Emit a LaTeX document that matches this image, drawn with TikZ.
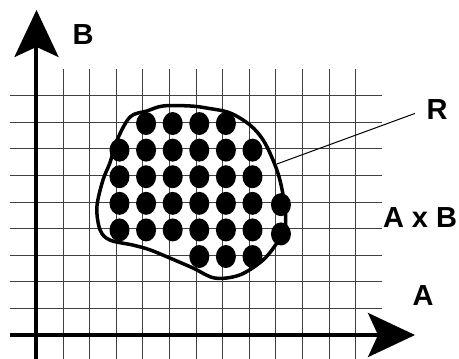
\documentclass[tikz,border=0pt]{standalone}
\usepackage{fontspec}
\setmainfont{Liberation Sans}
\usetikzlibrary{arrows.meta, positioning}

\begin{document}
\begin{tikzpicture}[x=26.6pt, y=26.6pt,
        gridline/.style={black!75, line width=1pt},
        axis/.style={-{Stealth[length=47pt, width=44pt, inset=10pt]}, line width=4pt},
        region/.style={line width=3.5pt, line join=round},
        dot/.style={fill=black},
        lbl/.style={font=\fontsize{29}{31}\selectfont\bfseries, inner sep=2pt}
    ]
        \useasboundingbox (-1.372,-0.865) rectangle (15.883,12.594);

        % grid
        \foreach \i in {1,...,12}
            \draw[gridline] (\i,-0.9) -- (\i,10);
        \foreach \j in {1,...,9}
            \draw[gridline] (-1,\j) -- (13,\j);

        % axes
        \coordinate (xstart) at (-1,0);
        \coordinate (xend) at (14.23,0);
        \coordinate (ystart) at (0,-0.9);
        \coordinate (yend) at (0,12.22);
        \draw[axis] (xstart) -- (xend);
        \draw[axis] (ystart) -- (yend);

        % points of the grid inside R
        \foreach \j/\from/\to in {8/4/7, 7/3/8, 6/3/8, 5/3/8, 4/3/8, 3/6/8}
            \foreach \i in {\from,...,\to}
                \fill[dot] (\i+0.12,\j-0.05) ellipse (10pt and 11.5pt);
        \fill[dot] (9.19,4.9) ellipse (10pt and 11.5pt);
        \fill[dot] (9.19,3.8) ellipse (10pt and 11.5pt);

        % region R
        \draw[region] plot[smooth cycle, tension=0.55] coordinates {
            (4.76,8.61) (5.77,8.61) (6.41,8.53) (7.27,8.35) (8.03,7.89)
            (8.52,7.33) (8.89,6.58) (9.15,5.83) (9.34,4.81) (9.34,3.95)
            (9.04,3.46) (8.52,2.82) (7.65,2.26) (6.71,2.14) (5.88,2.52)
            (5.02,2.89) (4.27,3.20) (3.63,3.38) (2.76,3.57) (2.39,3.95)
            (2.27,4.81) (2.50,5.83) (2.76,6.47) (3.03,7.33) (3.52,8.20)
            (4.15,8.42)};
        \coordinate (rim) at (9.04,6.43);

        % labels
        \node[lbl] (labB) at (1.75,11.28) {B};
        \node[lbl] (labR) at (15.06,8.46) {R};
        \node[lbl] (labAB) at (14.42,4.40) {A x B};
        \node[lbl] (labA) at (14.53,1.50) {A};

        \draw[line width=1pt, shorten >=10pt] (rim) -- (labR.west);
    \end{tikzpicture}
\end{document}
